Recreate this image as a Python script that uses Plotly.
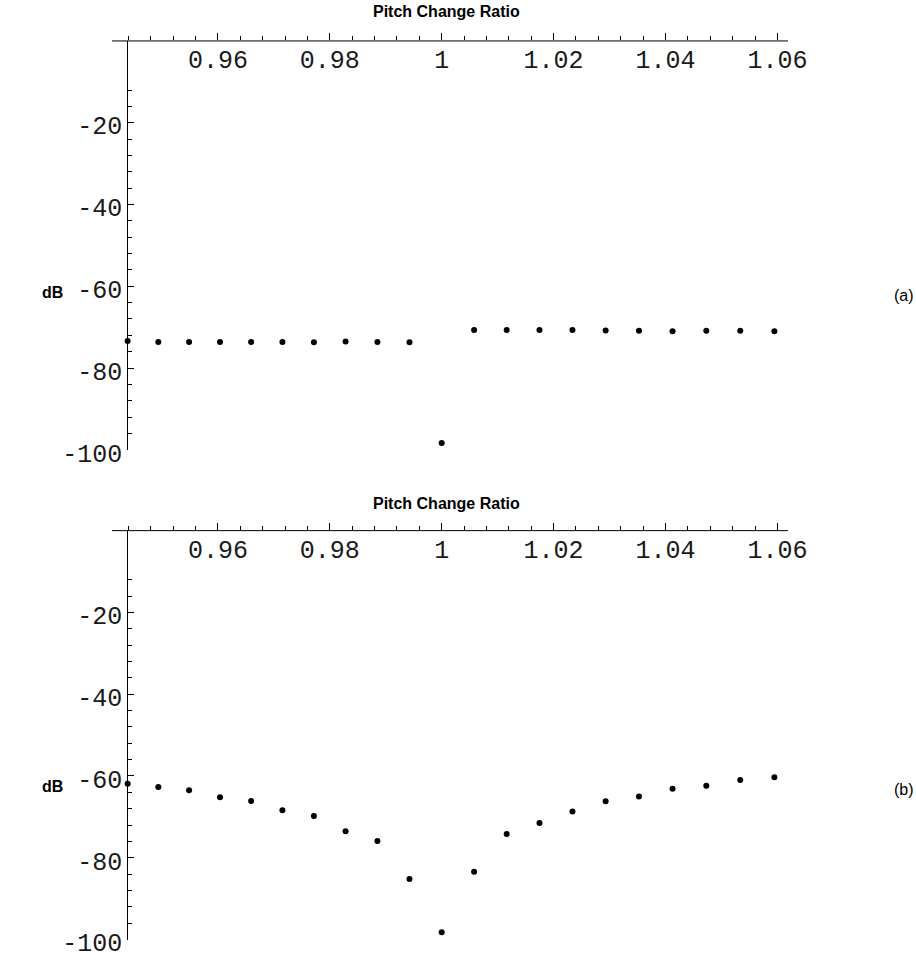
import plotly.graph_objects as go

# Pitch change ratios (x)
ratio = [0.94387, 0.94935, 0.95485, 0.96038, 0.96594, 0.97153, 0.97716,
         0.98282, 0.98851, 0.99424, 1.0, 1.00579, 1.01162, 1.01748,
         1.02337, 1.02930, 1.03526, 1.04126, 1.04729, 1.05336, 1.05946]

# Panel (a) levels in dB
db_a = [-73.4, -73.6, -73.6, -73.6, -73.6, -73.6, -73.7, -73.5, -73.6, -73.7,
        -98.3,
        -70.7, -70.7, -70.7, -70.7, -70.8, -70.9, -71.0, -70.9, -70.9, -71.0]

# Panel (b) levels in dB
db_b = [-61.9, -62.7, -63.5, -65.2, -66.1, -68.4, -69.8, -73.5, -75.9, -85.2,
        -98.2,
        -83.4, -74.2, -71.5, -68.7, -66.2, -65.0, -63.1, -62.4, -61.0, -60.3]

x_tickvals = [0.96, 0.98, 1.0, 1.02, 1.04, 1.06]
x_ticktext = ["0.96", "0.98", "1", "1.02", "1.04", "1.06"]
y_tickvals = [-100, -80, -60, -40, -20]
y_ticktext = ["-100", "-80", "-60", "-40", "-20"]

W, H = 916, 971
PX_PER_UNIT = 5595.0  # horizontal pixels per unit of ratio
X_AT_PX = lambda px: 1 + (px - 441.7) / PX_PER_UNIT

mono = dict(family="Liberation Mono, Courier New, monospace", size=25, color="#1a1a1a")

fig = go.Figure()
fig.add_trace(go.Scatter(x=ratio, y=db_a, mode="markers", xaxis="x", yaxis="y",
                         marker=dict(color="black", size=6), showlegend=False,
                         cliponaxis=False, hoverinfo="skip"))
fig.add_trace(go.Scatter(x=ratio, y=db_b, mode="markers", xaxis="x2", yaxis="y2",
                         marker=dict(color="black", size=6), showlegend=False,
                         cliponaxis=False, hoverinfo="skip"))

line_start, line_end = 112, 788      # visible x-axis line extent (px)
dom_end = 835                        # domain extended so the last label fits
xdom = [line_start / W, dom_end / W]
xrange_ = [X_AT_PX(line_start), X_AT_PX(dom_end)]
xline = [X_AT_PX(line_start), X_AT_PX(line_end)]
yaxis_pos = 127.3 / W
dom_a = [1 - 459.3 / H, 1 - 41.8 / H]
dom_b = [1 - 959.3 / H, 1 - 541.8 / H]

minor_x = [round(0.944 + 0.004 * i, 3) for i in range(30)]
minor_x = [v for v in minor_x if v <= 1.0605]


def xaxis_cfg(anchor):
    return dict(domain=xdom, range=xrange_, anchor=anchor, side="top",
                showline=False,
                showgrid=False, zeroline=False,
                tickmode="array", tickvals=x_tickvals, ticktext=x_ticktext,
                ticks="outside", ticklen=7, tickcolor="black", tickwidth=1,
                ticklabelposition="inside", ticklabelstandoff=7, tickfont=mono,
                minor=dict(tickmode="array", tickvals=minor_x, ticks="outside", ticklen=4,
                           tickcolor="black", tickwidth=1, showgrid=False),
                fixedrange=True)


def yaxis_cfg(dom):
    return dict(domain=dom, range=[-100, 0], anchor="free", position=yaxis_pos,
                showline=True, linecolor="black", linewidth=1,
                showgrid=False, zeroline=False,
                tickmode="array", tickvals=y_tickvals, ticktext=y_ticktext,
                ticks="inside", ticklen=6, tickcolor="black", tickwidth=1,
                tickfont=mono, ticklabelshift=3,
                minor=dict(dtick=4, tick0=0, ticks="inside", ticklen=3.5,
                           tickcolor="black", tickwidth=1, showgrid=False),
                fixedrange=True)


bold = dict(family="Liberation Sans, Arial, sans-serif", size=16, color="black")
plain = dict(family="Liberation Sans, Arial, sans-serif", size=16, color="black")

annotations = []
shapes = []
for (xa, dom), title_y, db_y, lab_y, lab in [(("x", dom_a), 12, 299, 302, "(a)"),
                                             (("x2", dom_b), 514, 803, 806, "(b)")]:
    shapes.append(dict(type="line", xref=xa, yref="paper",
                       x0=xline[0], x1=xline[1], y0=dom[1], y1=dom[1],
                       line=dict(color="black", width=1)))
    annotations.append(dict(text="<b>Pitch Change Ratio</b>", x=446 / W, y=1 - title_y / H,
                            xref="paper", yref="paper", showarrow=False,
                            xanchor="center", yanchor="middle", font=bold))
    annotations.append(dict(text="<b>dB</b>", x=52 / W, y=1 - db_y / H,
                            xref="paper", yref="paper", showarrow=False,
                            xanchor="center", yanchor="middle", font=bold))
    annotations.append(dict(text=lab, x=904 / W, y=1 - lab_y / H,
                            xref="paper", yref="paper", showarrow=False,
                            xanchor="center", yanchor="middle", font=plain))

fig.update_layout(
    width=W, height=H,
    margin=dict(l=0, r=0, t=0, b=0),
    paper_bgcolor="white", plot_bgcolor="white",
    xaxis=xaxis_cfg("y"), yaxis=yaxis_cfg(dom_a),
    xaxis2=xaxis_cfg("y2"), yaxis2=yaxis_cfg(dom_b),
    annotations=annotations,
    shapes=shapes,
    showlegend=False,
    hovermode=False,
)

fig.write_html(
    "out.html",
    config={"displayModeBar": False, "staticPlot": True},
    post_script="document.body.style.margin='0';document.body.style.overflow='hidden';",
)
